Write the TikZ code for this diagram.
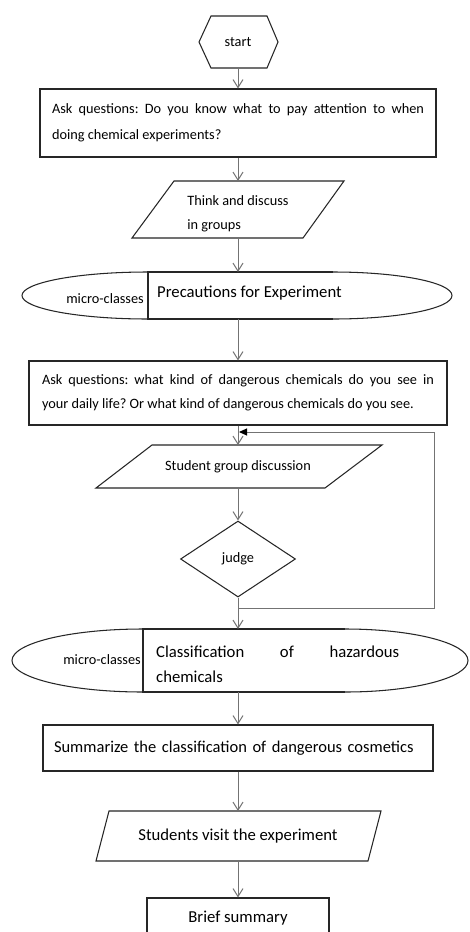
\documentclass[tikz,border=0pt]{standalone}
\usepackage{fontspec}
\setmainfont{Carlito}
\frenchspacing
\usetikzlibrary{arrows.meta,shapes.geometric}
\begin{document}
\begin{tikzpicture}[x=1pt,y=-1pt,
  shp/.style={draw=black!85,line width=1.05pt},
  conn/.style={draw=black!55,line width=1pt,-{Straight Barb[length=8pt,width=10pt]}},
  fbline/.style={draw=black!55,line width=1pt,-{Triangle[length=8pt,width=7pt,color=black]}},
  anch/.style={inner sep=0pt,outer sep=0pt},
  sm/.style={font=\fontsize{14.3}{24}\selectfont},
  lg/.style={font=\fontsize{16.7}{25}\selectfont},
]
\useasboundingbox (0,0) rectangle (470,932);
\fill[white] (0,0) rectangle (470,932);
\clip (0,0) rectangle (470,932);

% start
\draw[shp] (199,42) -- (211,16) -- (267,16) -- (278,42) -- (267,68) -- (211,68) -- cycle;
\node[anch,sm,minimum width=79pt,minimum height=52pt] (start) at (238,42) {start};

% question 1
\node[shp,font=\fontsize{14.3}{26}\selectfont,minimum width=396pt,minimum height=68pt,text width=372pt,inner xsep=12pt,align=justify] (q1) at (238,123)
  {Ask questions: Do you know what to pay attention to when\linebreak doing chemical experiments?};

% think and discuss
\draw[shp] (174,181) -- (344,181) -- (303,238) -- (132,238) -- cycle;
\node[anch,minimum width=212pt,minimum height=57pt] (p1) at (238,209.5) {};
\node[sm,align=left,inner sep=0pt] (p1t) at (238,214) {Think and discuss\\in groups};

% micro-class 1
\draw[shp] (148,295.5) ellipse [x radius=126, y radius=23.5];
\draw[shp] (333,295.5) ellipse [x radius=119, y radius=23.5];
\fill[white] (148,272) rectangle (333,319);
\draw[shp] (333,272) -- (148,272) -- (148,319) -- (333,319);
\node[anch,minimum width=10pt,minimum height=47pt] (e1) at (238,295.5) {};
\node[sm,anchor=east,inner sep=0pt] (m1) at (144,299) {micro-classes};
\node[lg,anchor=west,inner sep=0pt] (t1) at (157,293) {Precautions for Experiment};

% question 2
\node[shp,font=\fontsize{14.3}{24}\selectfont,minimum width=418pt,minimum height=64pt,text width=392pt,inner xsep=13pt,align=justify] (q2) at (238,393)
  {Ask questions: what kind of dangerous chemicals do you see in\linebreak your daily life? Or what kind of dangerous chemicals do you see.};

% student group discussion
\draw[shp] (152,445) -- (382,445) -- (325,488) -- (96,488) -- cycle;
\node[anch,sm,minimum width=286pt,minimum height=43pt] (p2) at (238,466.5) {Student group discussion};

% judge
\node[diamond,shp,sm,minimum width=115pt,minimum height=76pt,inner sep=0pt] (d) at (238,559) {judge};

% micro-class 2
\draw[shp] (143,660.5) ellipse [x radius=131, y radius=31.5];
\draw[shp] (345,660.5) ellipse [x radius=123, y radius=31.5];
\fill[white] (143,629) rectangle (345,692);
\draw[shp] (345,629) -- (143,629) -- (143,692) -- (345,692);
\node[anch,minimum width=10pt,minimum height=63pt] (e2) at (238,660.5) {};
\node[sm,anchor=east,inner sep=0pt] (m2) at (141,660) {micro-classes};
\node[lg,anchor=west,inner sep=0pt,text width=243pt,align=justify] (t2) at (156,664.5) {Classification of hazardous\linebreak chemicals};

% summarize
\node[shp,font=\fontsize{16.5}{25}\selectfont,minimum width=390pt,minimum height=46pt,text width=368pt,inner xsep=11pt,align=left] (q3) at (238,748)
  {Summarize the classification of dangerous cosmetics};

% students visit
\draw[shp] (109,811) -- (381,811) -- (368,861) -- (96,861) -- cycle;
\node[anch,lg,minimum width=285pt,minimum height=50pt] (p3) at (238,836) {Students visit the experiment};

% brief summary
\node[shp,lg,minimum width=182pt,minimum height=40pt] (q4) at (238,918) {Brief summary};

% connectors
\draw[conn] (start.south) -- (q1.north);
\draw[conn] (q1.south) -- (p1.north);
\draw[conn] (p1.south) -- (e1.north);
\draw[conn] (e1.south) -- (q2.north);
\draw[conn] (q2.south) -- (p2.north);
\draw[conn] (p2.south) -- (d.north);
\draw[conn] (d.south) -- (e2.north);
\draw[conn] (e2.south) -- (q3.north);
\draw[conn] (q3.south) -- (p3.north);
\draw[conn] (p3.south) -- (q4.north);

\coordinate (fb1) at (238,608);
\coordinate (fb2) at (434,608);
\coordinate (fb3) at (434,432);
\coordinate (fb4) at (239,432);
\draw[fbline] (fb1) -- (fb2) -- (fb3) -- (fb4);
\end{tikzpicture}
\end{document}
